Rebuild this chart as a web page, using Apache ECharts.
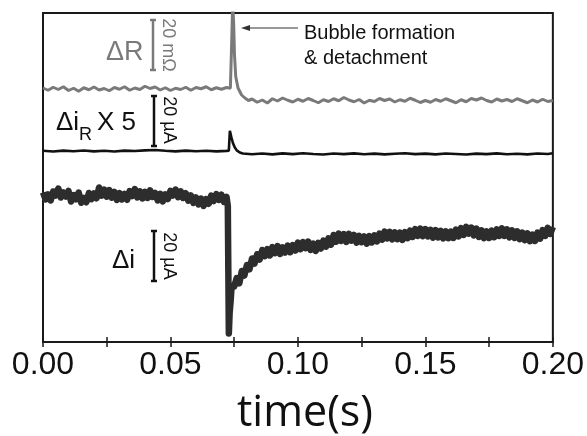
<!DOCTYPE html>
<html><head><meta charset="utf-8">
<script src="https://cdn.jsdelivr.net/npm/echarts@6/dist/echarts.min.js"></script>
<style>html,body{margin:0;padding:0;background:#fff}#c{width:587px;height:436px}</style>
</head><body><div id="c"></div>
<script>
// x tick labels (s)
const xTickLabels = ['0.00', '0.05', '0.10', '0.15', '0.20'];

// ΔR trace: time (ms) and value (mΩ, relative to pre-event baseline)
const rTimeMs = [0,2,4,6,8,10,12,14,16,18,20,22,24,26,28,30,32,34,36,38,40,42,44,46,48,50,52,54,56,58,60,62,64,66,68,70,72,
  73.5,74,74.4,74.8,75.1,75.6,76.5,77.9,79.2,80.6,
  82,84,86,88,90,92,94,96,98,100,102,104,106,108,110,112,114,116,118,120,122,124,126,128,130,132,134,136,138,140,
  142,144,146,148,150,152,154,156,158,160,162,164,166,168,170,172,174,176,178,180,182,184,186,188,190,192,194,196,198,200];
const rVal = [0.4,-0.5,0.7,-0.2,0.9,-0.6,0.3,-0.9,0.5,-0.3,0.8,-0.4,0.2,-0.7,0.6,-0.1,0.9,-0.5,0.4,-0.2,1.1,0.2,0.8,-0.4,0.5,-0.6,0.3,-0.2,0.7,-0.5,0.6,0.1,0.9,-0.3,0.5,-0.1,0.6,
  0.3,18,34,26,14,5,0.4,-2.4,-3.6,-4.6,
  -4.0,-5.3,-4.4,-5.6,-3.9,-4.8,-3.6,-4.5,-5.2,-4.1,
  -4.9,-3.8,-4.6,-5.5,-4.3,-5.0,-3.9,-4.7,-3.4,-4.4,
  -5.1,-4.2,-5.6,-4.5,-5.0,-3.8,-4.6,-4.0,-5.2,-4.3,
  -4.9,-3.7,-4.5,-5.4,-4.6,-5.3,-4.2,-4.9,-3.9,-4.7,
  -5.5,-4.3,-5.1,-3.8,-4.4,-3.6,-4.6,-5.2,-4.0,-4.8,
  -4.2,-5.0,-3.9,-4.7,-5.5,-4.4,-5.2,-4.1,-5.0,-4.6];

// Δi_R trace: time (ms) and value (µA), plotted x 5
const irTimeMs = [0,4,8,12,16,20,24,28,32,36,40,44,48,52,56,60,64,68,72,
  72.9,73.3,73.9,74.5,75.2,76.0,77.2,78.4,
  82,86,90,94,98,102,106,110,114,118,122,126,130,134,138,142,146,150,154,158,162,166,170,174,178,182,186,190,194,198,200];
const irVal = [0.02,-0.04,0.03,-0.02,0.04,-0.03,0.02,-0.04,0.03,0.00,0.05,0.08,0.02,-0.03,0.03,-0.02,0.02,-0.03,0.01,
  0.03,1.62,1.10,0.64,0.30,0.05,-0.12,-0.20,
  -0.26,-0.20,-0.27,-0.19,-0.25,-0.18,-0.24,-0.28,-0.20,-0.25,-0.19,-0.26,-0.21,-0.27,-0.22,-0.18,-0.25,-0.21,-0.27,-0.20,-0.24,-0.28,-0.21,-0.25,-0.19,-0.26,-0.22,-0.27,-0.20,-0.24,-0.18];
const irScale = 5;

// Δi trace: time (ms) and value (µA, relative to pre-event baseline)
const iTimeMs = [0,1,2,3,4,5,6,7,8,9,10,11,12,13,14,15,16,17,18,19,20,21,22,23,24,25,26,27,28,29,30,31,32,33,34,35,36,37,38,39,
  40,41,42,43,44,45,46,47,48,49,50,51,52,53,54,55,56,57,58,59,60,61,62,63,64,65,66,67,68,69,70,71,72,
  72.5,72.7,72.9,73.2,73.6,
  74,75,76,77,78,79,80,81,82,83,84,85,86,87,88,89,90,91,92,93,94,95,96,97,98,99,
  100,101,102,103,104,105,106,107,108,109,110,111,112,113,114,115,116,117,118,119,120,121,122,123,124,125,126,127,128,129,
  130,131,132,133,134,135,136,137,138,139,140,141,142,143,144,145,146,147,148,149,150,151,152,153,154,155,156,157,158,159,
  160,161,162,163,164,165,166,167,168,169,170,171,172,173,174,175,176,177,178,179,180,181,182,183,184,185,186,187,188,189,
  190,191,192,193,194,195,196,197,198,199,200];
const iVal = [1.4,-1.4,0.6,-1.8,1.8,0.2,3.0,-0.6,1.4,-0.2,2.0,-2.2,0.4,-1.3,1.4,-2.7,-0.8,-2.5,1.2,-1.3,
  1.0,-0.9,3.4,0.1,2.6,-0.3,2.4,-0.7,1.6,-1.6,1.2,-1.4,0.8,-1.5,2.0,0.0,2.8,-0.6,1.9,-1.0,
  1.7,-0.8,2.3,-0.4,1.2,-1.8,0.9,-2.2,0.7,-1.2,2.1,0.2,2.6,-0.5,1.9,-0.8,1.1,-1.9,0.2,-2.8,
  -0.6,-3.4,-1.0,-4.0,-1.2,-3.1,0.2,-2.0,0.8,-1.6,0.5,-2.4,-0.4,
  -4,-30,-55,-47,-42,
  -36.0,-36.2,-32.8,-34.9,-30.0,-31.8,-27.6,-29.3,-25.0,-27.0,-23.3,-25.4,-21.6,-24.1,-21.2,-23.8,-20.4,-22.9,-20.0,-23.2,
  -20.5,-22.6,-19.8,-22.5,-19.6,-21.8,
  -18.6,-21.3,-18.4,-20.9,-18.2,-21.6,-19.0,-22.0,-18.7,-21.0,-17.8,-20.3,-16.9,-19.5,-15.6,-18.3,-15.0,-18.0,-15.2,-18.4,
  -15.1,-17.9,-15.6,-18.7,-15.9,-18.5,-16.2,-19.1,-16.0,-18.6,
  -15.7,-18.2,-15.0,-17.5,-14.2,-17.0,-14.3,-17.4,-14.5,-17.3,-14.6,-17.6,-14.4,-16.9,-13.8,-16.4,-13.2,-16.0,-13.0,-16.1,
  -13.2,-16.2,-13.5,-16.7,-13.6,-16.6,-13.9,-17.0,-14.1,-16.9,
  -14.2,-16.8,-13.4,-16.2,-12.8,-15.6,-12.3,-15.1,-12.6,-15.8,-13.0,-16.4,-13.7,-16.9,-14.1,-16.8,-13.8,-16.5,-13.3,-16.0,
  -12.9,-16.0,-13.3,-16.6,-13.7,-16.8,-14.1,-17.3,-14.6,-17.7,
  -14.9,-18.1,-15.4,-18.0,-14.6,-17.1,-13.6,-16.0,-12.7,-15.2,-12.4];

// vertical stacking offsets (display units; 20 units = scale bar)
const R_OFF = 101.2, IR_OFF = 76.4, I_OFF = 58.4;

const chart = echarts.init(document.getElementById('c'), null, {renderer: 'canvas'});
const FONT = '"Liberation Sans", Arial, sans-serif';
const pairs = (ts, vs, k, off) => ts.map((t, i) => [t / 1000, vs[i] * k + off]);

chart.setOption({
  animation: false,
  backgroundColor: '#fff',
  grid: {left: 43, right: 34, top: 13, bottom: 94, show: true, borderColor: '#1a1a1a', borderWidth: 2, backgroundColor: 'transparent'},
  xAxis: [{
    type: 'value', min: 0, max: 0.2, interval: 0.025, position: 'bottom',
    axisLine: {show: true, onZero: false, lineStyle: {color: '#1a1a1a', width: 2}},
    axisTick: {show: true, inside: true, length: 5, lineStyle: {color: '#1a1a1a', width: 1.5}},
    splitLine: {show: false},
    axisLabel: {margin: 7, fontFamily: FONT, fontSize: 32, color: '#111',
      formatter: v => { const k = Math.round(v / 0.025); return k % 2 === 0 ? xTickLabels[k / 2] : ''; }}
  }, {
    type: 'value', min: 0, max: 0.2, interval: 0.025, position: 'top',
    axisLine: {show: false},
    axisTick: {show: true, inside: true, length: 5, lineStyle: {color: '#1a1a1a', width: 1.5}},
    splitLine: {show: false}, axisLabel: {show: false}
  }],
  yAxis: {type: 'value', min: 0, max: 131.6, show: true,
    axisLine: {show: false}, axisTick: {show: false}, axisLabel: {show: false}, splitLine: {show: false}},
  series: [
    {type: 'line', data: pairs(rTimeMs, rVal, 1, R_OFF), showSymbol: false, symbol: 'none', clip: true,
      lineStyle: {color: '#7a7a7a', width: 3}},
    {type: 'line', data: pairs(irTimeMs, irVal, irScale, IR_OFF), showSymbol: false, symbol: 'none', clip: true,
      lineStyle: {color: '#111', width: 2.6}},
    {type: 'line', data: pairs(iTimeMs, iVal, 1, I_OFF), showSymbol: false, symbol: 'none', clip: true,
      lineStyle: {color: '#2d2d2d', width: 6.5, join: 'round'}}
  ]
});

// annotations: scale bars (20 units), labels, arrow
const toPx = (t, v) => chart.convertToPixel({gridIndex: 0}, [t, v]);
const barLen = toPx(0, 0)[1] - toPx(0, 20)[1];
function scaleBar(x, yTop, color) {
  return [
    {type: 'line', shape: {x1: x, y1: yTop, x2: x, y2: yTop + barLen}, style: {stroke: color, lineWidth: 2.5}},
    {type: 'line', shape: {x1: x - 3, y1: yTop, x2: x + 3, y2: yTop}, style: {stroke: color, lineWidth: 2.5}},
    {type: 'line', shape: {x1: x - 3, y1: yTop + barLen, x2: x + 3, y2: yTop + barLen}, style: {stroke: color, lineWidth: 2.5}}
  ];
}
function txt(s, x, y, size, color) {
  return {type: 'text', x: x, y: y, style: {text: s, x: 0, y: 0, fontFamily: FONT, fontSize: size, fill: color, align: 'left', verticalAlign: 'middle'}};
}
function rotTxt(s, x, y, size, color) {
  return {type: 'text', x: x, y: y, rotation: -Math.PI / 2,
    style: {text: s, x: 0, y: 0, fontFamily: FONT, fontSize: size, fill: color, align: 'center', verticalAlign: 'middle'}};
}
const gray = '#7a7a7a';
chart.setOption({graphic: [].concat(
  scaleBar(153, 20, gray),
  scaleBar(154, 96, '#111'),
  scaleBar(154, 231, '#111'),
  [
    txt('ΔR', 106, 53, 27, gray),
    rotTxt('20 mΩ', 168, 45, 18, gray),
    txt('Δi', 56, 123, 26, '#111'),
    txt('R', 79, 135, 18, '#111'),
    txt('X 5', 97, 123, 26, '#111'),
    rotTxt('20 µA', 169, 120, 18, '#111'),
    txt('Δi', 112, 261, 26, '#111'),
    rotTxt('20 µA', 169, 256, 18, '#111'),
    {type: 'line', shape: {x1: 298, y1: 28, x2: 248, y2: 28}, style: {stroke: '#333', lineWidth: 1.2}},
    {type: 'polygon', shape: {points: [[241, 28], [250, 25], [250, 31]]}, style: {fill: '#333'}},
    txt('Bubble formation', 304, 33, 20, '#111'),
    txt('& detachment', 304, 58, 20, '#111'),
    {type: 'text', x: 305, y: 414, style: {text: 'time(s)', x: 0, y: 0, fontFamily: '"Open Sans", "Noto Sans", sans-serif', fontSize: 43, fill: '#111', align: 'center', verticalAlign: 'middle'}}
  ]
)});
</script>
</body></html>
